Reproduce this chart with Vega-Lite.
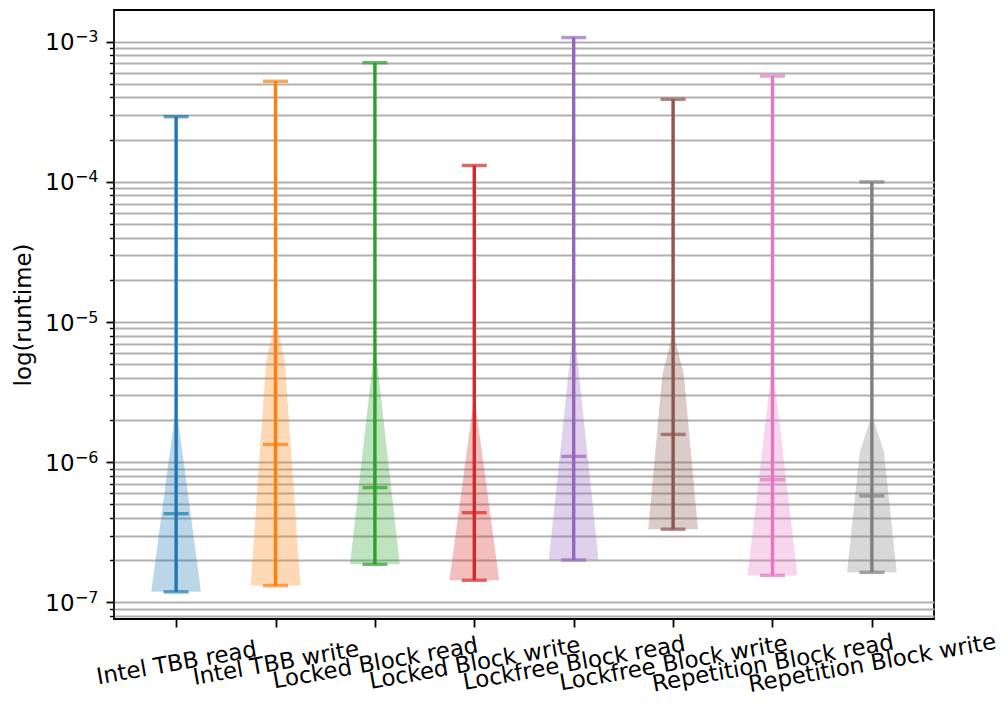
{
  "$schema": "https://vega.github.io/schema/vega-lite/v6.json",
  "width": 820,
  "height": 609,
  "autosize": "none",
  "padding": {"left": 114, "top": 10, "right": 72, "bottom": 100},
  "background": "white",
  "config": {
    "view": {"stroke": "black", "strokeWidth": 1.8},
    "font": "DejaVu Sans"
  },
  "datasets": {
    "violin": [
      {"name": "Intel TBB read", "runtime": 1.19e-7, "w": 0.25},
      {"name": "Intel TBB read", "runtime": 2.56e-6, "w": 0.0},
      {"name": "Intel TBB write", "runtime": 1.32e-7, "w": 0.25},
      {"name": "Intel TBB write", "runtime": 5.22e-6, "w": 0.094},
      {"name": "Intel TBB write", "runtime": 1.05e-5, "w": 0.0},
      {"name": "Locked Block read", "runtime": 1.87e-7, "w": 0.25},
      {"name": "Locked Block read", "runtime": 7.08e-6, "w": 0.0},
      {"name": "Locked Block write", "runtime": 1.44e-7, "w": 0.25},
      {"name": "Locked Block write", "runtime": 3.0e-6, "w": 0.0},
      {"name": "Lockfree Block read", "runtime": 2.01e-7, "w": 0.25},
      {"name": "Lockfree Block read", "runtime": 9.7e-6, "w": 0.0},
      {"name": "Lockfree Block write", "runtime": 3.33e-7, "w": 0.25},
      {"name": "Lockfree Block write", "runtime": 4.2e-6, "w": 0.108},
      {"name": "Lockfree Block write", "runtime": 8.6e-6, "w": 0.0},
      {"name": "Repetition Block read", "runtime": 1.56e-7, "w": 0.25},
      {"name": "Repetition Block read", "runtime": 5.19e-6, "w": 0.0},
      {"name": "Repetition Block write", "runtime": 1.64e-7, "w": 0.25},
      {"name": "Repetition Block write", "runtime": 1.19e-6, "w": 0.121},
      {"name": "Repetition Block write", "runtime": 2.18e-6, "w": 0.0}
    ],
    "stats": [
      {"name": "Intel TBB read", "min": 1.19e-7, "max": 2.92e-4, "mean": 4.30e-7},
      {"name": "Intel TBB write", "min": 1.32e-7, "max": 5.22e-4, "mean": 1.34e-6},
      {"name": "Locked Block read", "min": 1.87e-7, "max": 7.08e-4, "mean": 6.59e-7},
      {"name": "Locked Block write", "min": 1.44e-7, "max": 1.31e-4, "mean": 4.37e-7},
      {"name": "Lockfree Block read", "min": 2.01e-7, "max": 1.07e-3, "mean": 1.10e-6},
      {"name": "Lockfree Block write", "min": 3.33e-7, "max": 3.88e-4, "mean": 1.58e-6},
      {"name": "Repetition Block read", "min": 1.56e-7, "max": 5.69e-4, "mean": 7.51e-7},
      {"name": "Repetition Block write", "min": 1.64e-7, "max": 1.0e-4, "mean": 5.75e-7}
    ]
  },
  "layer": [
    {
      "layer": [
        {
          "data": {"name": "violin"},
          "transform": [
            {"calculate": "indexof(['Intel TBB read','Intel TBB write','Locked Block read','Locked Block write','Lockfree Block read','Lockfree Block write','Repetition Block read','Repetition Block write'], datum.name) + 1", "as": "pos"},
            {"calculate": "datum.pos - datum.w", "as": "lo"},
            {"calculate": "datum.pos + datum.w", "as": "hi"}
          ],
          "mark": {"type": "area", "orient": "horizontal", "fillOpacity": 0.3, "strokeWidth": 0},
          "encoding": {
            "y": {"field": "runtime", "type": "quantitative",
              "scale": {"type": "log", "domain": [7.62e-8, 1.683e-3], "nice": false},
              "axis": {"title": "log(runtime)", "orient": "left", "values": [8e-8, 9e-8, 1e-7, 2e-7, 3e-7, 4e-7, 5e-7, 6e-7, 7e-7, 8e-7, 9e-7, 1e-6, 2e-6, 3e-6, 4e-6, 5e-6, 6e-6, 7e-6, 8e-6, 9e-6, 1e-5, 2e-5, 3e-5, 4e-5, 5e-5, 6e-5, 7e-5, 8e-5, 9e-5, 1e-4, 2e-4, 3e-4, 4e-4, 5e-4, 6e-4, 7e-4, 8e-4, 9e-4, 1e-3],
                "labelExpr": "abs(log(datum.value)/LN10 - round(log(datum.value)/LN10)) < 0.001 ? '10' : ''",
                "grid": true, "gridColor": "#b0b0b0", "gridWidth": 1.8, "domain": false,
                "tickColor": "black",
                "tickWidth": {"condition": {"test": "abs(log(datum.value)/LN10 - round(log(datum.value)/LN10)) < 0.001", "value": 1.8}, "value": 1.4},
                "tickSize": {"condition": {"test": "abs(log(datum.value)/LN10 - round(log(datum.value)/LN10)) < 0.001", "value": 8}, "value": 4.6},
                "labelFontSize": 22.9, "labelColor": "black", "labelPadding": 32, "labelOffset": 1, "labelBaseline": "middle", "labelOverlap": false, "labelFlush": false, "labelBound": false,
                "titleFontSize": 22.9, "titleFontWeight": "normal", "titleColor": "black", "titleAngle": -90, "titleBaseline": "alphabetic", "titleAlign": "center", "titleX": -84, "titleY": 304.5}
            },
            "x": {"field": "lo", "type": "quantitative",
              "scale": {"domain": [0.375, 8.625], "nice": false, "zero": false},
              "axis": {"values": [1, 2, 3, 4, 5, 6, 7, 8], "labelExpr": "['Intel TBB read','Intel TBB write','Locked Block read','Locked Block write','Lockfree Block read','Lockfree Block write','Repetition Block read','Repetition Block write'][datum.value - 1]",
                "title": null, "grid": false, "domain": false, "tickSize": 8, "tickColor": "black", "tickWidth": 1.8,
                "labelAngle": -10, "labelAlign": "center", "labelBaseline": "middle", "labelPadding": 36, "labelFontSize": 22.9, "labelColor": "black", "labelOverlap": false, "labelFlush": false, "labelBound": false, "labelLimit": 500}
            },
            "x2": {"field": "hi"},
            "color": {"field": "name", "type": "nominal", "legend": null,
              "scale": {"domain": ["Intel TBB read","Intel TBB write","Locked Block read","Locked Block write","Lockfree Block read","Lockfree Block write","Repetition Block read","Repetition Block write"],
                "range": ["#1f77b4","#ff7f0e","#2ca02c","#d62728","#9467bd","#8c564b","#e377c2","#7f7f7f"]}}
          }
        },
        {
          "data": {"name": "stats"},
          "transform": [
            {"calculate": "indexof(['Intel TBB read','Intel TBB write','Locked Block read','Locked Block write','Lockfree Block read','Lockfree Block write','Repetition Block read','Repetition Block write'], datum.name) + 1", "as": "pos"}
          ],
          "mark": {"type": "rule", "strokeWidth": 3.4},
          "encoding": {
            "x": {"field": "pos", "type": "quantitative"},
            "y": {"field": "min", "type": "quantitative"},
            "y2": {"field": "max"},
            "color": {"field": "name", "type": "nominal", "legend": null}
          }
        },
        {
          "data": {"name": "stats"},
          "transform": [
            {"calculate": "indexof(['Intel TBB read','Intel TBB write','Locked Block read','Locked Block write','Lockfree Block read','Lockfree Block write','Repetition Block read','Repetition Block write'], datum.name) + 1", "as": "pos"},
            {"fold": ["min", "max", "mean"], "as": ["stat", "runtime"]}
          ],
          "mark": {"type": "tick", "orient": "horizontal", "size": 25, "thickness": 3.4},
          "encoding": {
            "x": {"field": "pos", "type": "quantitative"},
            "y": {"field": "runtime", "type": "quantitative"},
            "color": {"field": "name", "type": "nominal", "legend": null}
          }
        }
      ]
    },
    {
      "data": {"name": "stats"},
      "mark": {"type": "point", "opacity": 0},
      "encoding": {
        "y": {"field": "min", "type": "quantitative",
          "scale": {"type": "log", "domain": [7.62e-8, 1.683e-3], "nice": false},
          "axis": {"orient": "left", "title": null, "values": [1e-7, 1e-6, 1e-5, 1e-4, 1e-3],
            "labelExpr": "'−' + (-round(log(datum.value)/LN10))",
            "grid": false, "domain": false, "ticks": true, "tickSize": 0, "tickOpacity": 0,
            "labelFontSize": 16, "labelColor": "black", "labelPadding": 16, "labelOffset": -5, "labelBaseline": "middle", "labelAlign": "right",
            "labelOverlap": false, "labelFlush": false, "labelBound": false}
        }
      }
    }
  ],
  "resolve": {"scale": {"y": "independent"}, "axis": {"y": "independent"}}
}
